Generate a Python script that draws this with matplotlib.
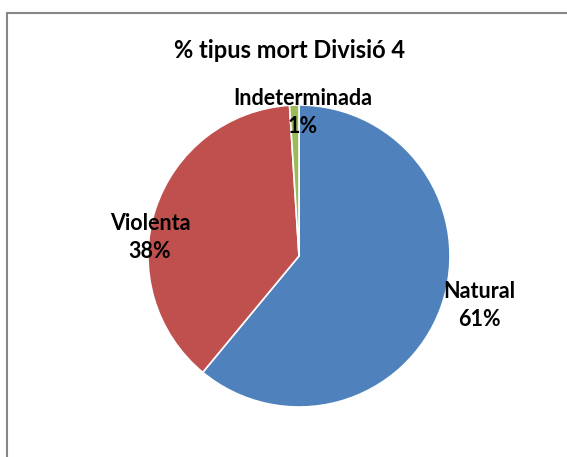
import matplotlib.pyplot as plt
from matplotlib.patches import Rectangle

plt.rcParams['font.family'] = ['Lato', 'DejaVu Sans']

# dades
categories = ['Natural', 'Violenta', 'Indeterminada']
values = [61, 38, 1]
colors = ['#4F81BD', '#C0504D', '#9BBB59']
title = '% tipus mort Divisió 4'

W, H = 567, 457
fig = plt.figure(figsize=(W / 100, H / 100), dpi=100)

# marc del gràfic (estil Excel)
fig.patches.append(Rectangle((7 / W, -0.1), 1.2, (H - 13) / H + 0.1,
                             transform=fig.transFigure, fill=False,
                             edgecolor='#878787', linewidth=1.5))

# pastís: centre (299,256) px, radi 151 px
cx, cy, r = 299, 256, 151
ax = fig.add_axes([(cx - r) / W, (H - cy - r) / H, 2 * r / W, 2 * r / H])
wedges, _ = ax.pie(values, colors=colors, startangle=90, counterclock=False,
                   wedgeprops=dict(edgecolor='white', linewidth=1.2))
ax.set_xlim(-1, 1)
ax.set_ylim(-1, 1)
ax.axis('off')

# posicions de les etiquetes (coordenades del pastís)
label_pos = [(1.192, -0.330), (-0.987, 0.120), (0.026, 0.950)]
for cat, val, (lx, ly) in zip(categories, values, label_pos):
    ax.text(lx, ly, f'{cat}\n{val}%', ha='center', va='center',
            fontsize=15.5, fontweight='bold', linespacing=1.4,
            clip_on=False)

fig.text(290 / W, 1 - 51 / H, title, ha='center', va='center',
         fontsize=17, fontweight='bold')

fig.savefig('out.png', dpi=100)
